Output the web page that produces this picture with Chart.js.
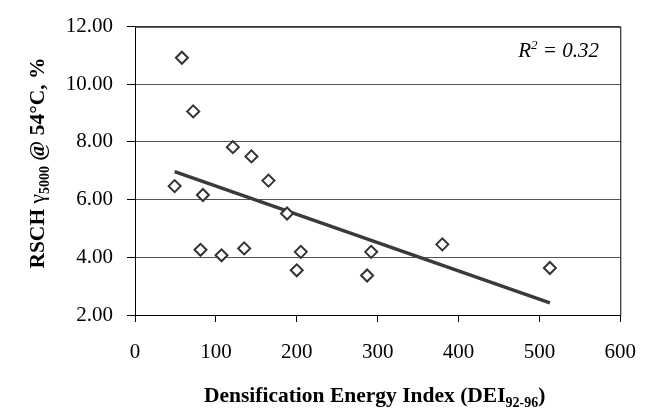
<!DOCTYPE html>
<html>
<head>
<meta charset="utf-8">
<script src="https://cdn.jsdelivr.net/npm/chart.js@4.4.1/dist/chart.umd.min.js"></script>
<style>
  html, body { margin:0; padding:0; background:#fff; }
</style>
</head>
<body>
<canvas id="chart" width="654" height="413"></canvas>
<script>
// DEI 92-96 vs RSCH shear strain
const deiValues  = [58, 72, 121, 144, 165, 49, 84, 81, 107, 135, 188, 205, 200, 292, 287, 380, 513];
const rschValues = [10.92, 9.06, 7.82, 7.50, 6.66, 6.47, 6.16, 4.26, 4.07, 4.31, 5.52, 4.19, 3.55, 4.19, 3.37, 4.45, 3.63];
const trendX = [49, 513];
const trendY = [6.97, 2.42];
const xTicks = [0, 100, 200, 300, 400, 500, 600];
const yTicks = [2, 4, 6, 8, 10, 12];
const rSquared = '0.32';

const SERIF = "'Liberation Serif', 'Times New Roman', serif";

// draws runs of text with different fonts / baseline shifts, centered on 0
function drawRuns(ctx, runs) {
  let total = 0;
  runs.forEach(r => { ctx.font = r.font; r.w = ctx.measureText(r.text).width; total += r.w; });
  let x = -total / 2;
  runs.forEach(r => {
    ctx.font = r.font;
    ctx.fillText(r.text, x, r.dy || 0);
    x += r.w;
  });
}

const extrasPlugin = {
  id: 'extras',
  afterDraw(chart) {
    const { ctx, chartArea: a } = chart;
    ctx.save();
    // frame
    ctx.strokeStyle = '#000';
    ctx.lineWidth = 1;
    ctx.strokeRect(a.left + 0.5, a.top + 0.5, a.right - a.left, a.bottom - a.top);

    ctx.fillStyle = '#000';
    ctx.textBaseline = 'alphabetic';
    ctx.textAlign = 'left';

    // x title
    ctx.save();
    ctx.translate((a.left + a.right) / 2 - 3, 402);
    drawRuns(ctx, [
      { text: 'Densification Energy Index (DEI', font: `bold 21.5px ${SERIF}` },
      { text: '92-96', font: `bold 14px ${SERIF}`, dy: 5 },
      { text: ')', font: `bold 21.5px ${SERIF}` }
    ]);
    ctx.restore();

    // y title
    ctx.save();
    ctx.translate(44, 163);
    ctx.rotate(-Math.PI / 2);
    drawRuns(ctx, [
      { text: 'RSCH ', font: `bold 21.5px ${SERIF}` },
      { text: 'γ', font: `21.5px ${SERIF}` },
      { text: '5000', font: `bold 14px ${SERIF}`, dy: 5 },
      { text: ' @ 54°C, %', font: `bold 21.5px ${SERIF}` }
    ]);
    ctx.restore();

    // R squared
    ctx.font = `italic 21px ${SERIF}`;
    const tail = ' = ' + rSquared;
    const wTail = ctx.measureText(tail).width;
    ctx.font = `italic 13px ${SERIF}`;
    const wSup = ctx.measureText('2').width;
    ctx.font = `italic 21px ${SERIF}`;
    const wR = ctx.measureText('R').width;
    let x = 599 - wTail - wSup - wR;
    ctx.fillText('R', x, 57); x += wR;
    ctx.font = `italic 13px ${SERIF}`;
    ctx.fillText('2', x, 49); x += wSup;
    ctx.font = `italic 21px ${SERIF}`;
    ctx.fillText(tail, x, 57);
    ctx.restore();
  }
};

new Chart(document.getElementById('chart'), {
  type: 'scatter',
  data: {
    datasets: [
      {
        data: deiValues.map((v, i) => ({ x: v, y: rschValues[i] })),
        pointStyle: 'rectRot', pointRadius: 6, pointHoverRadius: 6,
        pointBorderWidth: 2, borderColor: '#333', backgroundColor: '#fff'
      },
      {
        type: 'line',
        data: trendX.map((v, i) => ({ x: v, y: trendY[i] })),
        borderColor: '#3a3a3a', borderWidth: 3.5, pointRadius: 0, fill: false
      }
    ]
  },
  options: {
    responsive: false, animation: false, devicePixelRatio: 1,
    layout: { padding: { top: 14, right: 27, left: 0, bottom: 0 } },
    plugins: { legend: { display: false }, tooltip: { enabled: false } },
    scales: {
      x: {
        type: 'linear', min: 0, max: 600,
        afterBuildTicks: s => { s.ticks = xTicks.map(v => ({ value: v })); },
        afterFit: s => { s.height = 98; },
        ticks: { color: '#000', padding: 18, font: { family: SERIF, size: 21 }, maxRotation: 0 },
        grid: { drawOnChartArea: false, tickLength: 7, tickColor: '#000' },
        border: { color: '#000', width: 1 }
      },
      y: {
        min: 2, max: 12,
        afterBuildTicks: s => { s.ticks = yTicks.map(v => ({ value: v })); },
        afterFit: s => { s.width = 135; },
        ticks: { color: '#000', padding: 14, font: { family: SERIF, size: 21 }, callback: v => v.toFixed(2) },
        grid: { color: '#555', tickLength: 8, tickColor: '#000' },
        border: { color: '#000', width: 1 }
      }
    }
  },
  plugins: [extrasPlugin]
});
</script>
</body>
</html>
